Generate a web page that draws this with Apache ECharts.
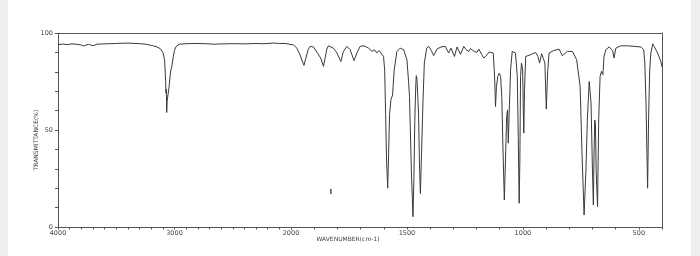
<!DOCTYPE html>
<html>
<head>
<meta charset="utf-8">
<script src="https://cdn.jsdelivr.net/npm/echarts@6/dist/echarts.min.js"></script>
<style>
html,body{margin:0;padding:0;background:#fff;}
#c{width:700px;height:256px;}
</style>
</head>
<body>
<div id="c"></div>
<script>
// Wavenumbers (cm-1) and transmittance (%)
const wavenumbers = [
4000,3960,3920,3880,3840,3800,3790,3780,3770,3740,3710,3700,3690,3670,3600,3500,3400,3300,3240,3200,
3182,3150,3124,3099,3085,3076,3073,3070,3067,3063,3058,3047,3033,3025,3021,3010,3000,2987,2960,2900,
2800,2700,2660,2652,2640,2500,2400,2300,2250,2240,2230,2150,2100,2050,2020,2000,
1990,1975,1961,1950,1944,1938,1926,1918,1903,1886,1872,1860,1853,1846,1839,1817,1802,1785,1774,1759,
1745,1728,1716,1702,1685,1666,1650,1640,1630,1620,1612,1601,1596,1592,1588,1583,1579,1575,1569,1562,
1555,1543,1529,1514,1500,1493,1489,1481,1474,1470,1466,1463,1460,1457,1450,1446,1442,1437,1431,1425,
1415,1406,1395,1385,1370,1353,1335,1320,1310,1295,1284,1269,1255,1245,1233,1226,1219,1210,1204,1198,
1190,1178,1169,1160,1154,1145,1137,1128,1123,1121,1118,1114,1108,1102,1096,1091,1086,1080,1075,1070,
1066,1063,1059,1053,1046,1039,1032,1024,1020,1016,1013,1010,1006,1001,998,996,993,988,967,945,
935,928,919,912,905,899,893,887,866,844,830,808,786,768,753,745,736,728,722,714,
710,706,700,696,693,690,687,684,678,673,667,661,655,650,642,628,613,607,599,578,
549,520,491,479,474,469,465,462,458,453,448,440,434,419,405,400
];
const transmittance = [
94.0,94.3,94.0,94.4,94.2,93.8,93.0,93.3,94.0,94.2,93.6,92.8,93.6,94.2,94.4,94.6,94.8,94.5,94.2,93.6,
93.4,92.8,92.0,90.0,86.0,75.0,69.0,71.0,59.0,65.0,66.0,72.0,80.5,82.0,83.6,88.0,91.0,93.0,94.2,94.5,
94.6,94.4,94.2,93.4,94.3,94.5,94.4,94.6,94.5,93.6,94.5,94.8,94.6,94.6,94.3,94.0,
94.0,92.2,88.8,85.0,83.3,86.2,91.4,93.1,92.8,89.7,87.1,82.8,87.1,91.4,93.4,92.2,89.7,85.3,90.5,93.1,
91.4,85.7,89.7,93.1,93.4,92.2,90.5,91.4,89.7,91.0,89.7,87.9,81.0,58.7,34.6,20.0,38.0,58.0,65.6,68.0,
81.0,90.5,92.2,91.4,86.2,75.0,67.3,29.4,5.3,25.0,55.0,69.0,78.0,76.8,58.7,32.9,17.2,38.0,63.9,84.5,
92.2,93.1,91.0,88.3,91.8,92.8,93.1,89.7,92.2,87.9,92.8,89.0,93.1,91.4,90.5,92.0,92.2,90.5,91.4,90.0,
91.7,89.0,87.1,88.0,88.3,90.2,90.2,89.7,80.0,74.2,62.1,72.4,77.6,79.3,77.6,67.3,41.5,13.9,34.6,57.0,
60.4,43.2,58.7,81.0,90.5,91.0,89.7,77.6,46.6,12.2,34.6,77.6,84.5,81.0,58.7,48.4,70.0,87.9,88.8,90.0,
87.9,84.5,89.3,88.8,84.5,60.8,80.0,89.7,91.0,91.7,88.3,90.5,90.5,86.2,72.4,38.0,6.2,29.4,55.2,75.0,
75.9,63.9,29.4,11.4,38.0,55.2,53.5,29.4,10.5,55.2,77.6,80.2,78.5,87.9,91.4,92.8,91.0,87.1,92.2,93.4,
93.4,93.1,92.8,91.4,84.5,63.9,38.0,20.0,55.2,81.0,89.7,94.4,93.1,89.7,85.3,82.5
];
// stray mark printed on the original chart
const strayMark = [[1828, 18.3]];

const xLabelsHigh = [4000, 3000, 2000];
const xLabelsLow = [1500, 1000, 500];
const yLabels = [0, 50, 100];

const highPart = [], lowPart = [];
for (let i = 0; i < wavenumbers.length; i++) {
  const p = [wavenumbers[i], transmittance[i]];
  if (wavenumbers[i] >= 2000) highPart.push(p);
  if (wavenumbers[i] <= 2000) lowPart.push(p);
}

const axisColor = '#555';
const txtColor = '#444';
const font = 'DejaVu Sans';

const chart = echarts.init(document.getElementById('c'), null, {renderer: 'canvas'});
chart.setOption({
  animation: false,
  backgroundColor: '#fff',
  grid: [
    {left: 58, top: 33, width: 233, height: 194},
    {left: 291, top: 33, right: 38, height: 194}
  ],
  xAxis: [
    {type: 'value', gridIndex: 0, min: 2000, max: 4000, interval: 100, inverse: true,
     axisLine: {lineStyle: {color: axisColor, width: 1}},
     axisTick: {length: 2.5, lineStyle: {color: axisColor}},
     axisLabel: {interval: 0, margin: 3, fontSize: 6.5, color: txtColor, fontFamily: font,
       formatter: v => xLabelsHigh.includes(v) ? String(v) : ''},
     splitLine: {show: false}},
    {type: 'value', gridIndex: 1, min: 400, max: 2000, interval: 100, inverse: true,
     axisLine: {lineStyle: {color: axisColor, width: 1}},
     axisTick: {length: 2.5, lineStyle: {color: axisColor}},
     axisLabel: {interval: 0, margin: 3, fontSize: 6.5, color: txtColor, fontFamily: font,
       formatter: v => xLabelsLow.includes(v) ? String(v) : ''},
     splitLine: {show: false}},
    {type: 'value', gridIndex: 0, min: 2000, max: 4000, inverse: true, position: 'top',
     axisLine: {lineStyle: {color: axisColor, width: 1}}, axisTick: {show: false},
     axisLabel: {show: false}, splitLine: {show: false}},
    {type: 'value', gridIndex: 1, min: 400, max: 2000, inverse: true, position: 'top',
     axisLine: {lineStyle: {color: axisColor, width: 1}}, axisTick: {show: false},
     axisLabel: {show: false}, splitLine: {show: false}}
  ],
  yAxis: [
    {type: 'value', gridIndex: 0, min: 0, max: 100, interval: 10,
     axisLine: {show: true, lineStyle: {color: axisColor, width: 1}},
     axisTick: {show: true, length: 3, lineStyle: {color: axisColor}},
     axisLabel: {margin: 5, fontSize: 6.5, color: txtColor, fontFamily: font,
       formatter: v => yLabels.includes(v) ? String(v) : ''},
     splitLine: {show: false}},
    {type: 'value', gridIndex: 1, min: 0, max: 100, position: 'right',
     axisLine: {show: true, lineStyle: {color: axisColor, width: 1}},
     axisTick: {show: false}, axisLabel: {show: false}, splitLine: {show: false}}
  ],
  graphic: [
    {type: 'rect', left: 0, top: 0, shape: {width: 8, height: 256}, style: {fill: '#eeeeee'}},
    {type: 'rect', left: 691, top: 0, shape: {width: 9, height: 256}, style: {fill: '#eeeeee'}},
    {type: 'text', x: 36, y: 140, rotation: Math.PI / 2,
     style: {text: 'TRANSMITTANCE(%)', fill: txtColor, font: '6px DejaVu Sans', align: 'center', verticalAlign: 'middle'}},
    {type: 'text', x: 348, y: 239,
     style: {text: 'WAVENUMBER(cm-1)', fill: txtColor, font: '6px DejaVu Sans', align: 'center', verticalAlign: 'middle'}}
  ],
  series: [
    {type: 'line', xAxisIndex: 0, yAxisIndex: 0, data: highPart, symbol: 'none',
     lineStyle: {color: '#3a3a3a', width: 1}},
    {type: 'line', xAxisIndex: 1, yAxisIndex: 1, data: lowPart, symbol: 'none',
     lineStyle: {color: '#3a3a3a', width: 1}},
    {type: 'scatter', xAxisIndex: 1, yAxisIndex: 1, data: strayMark, symbol: 'rect',
     symbolSize: [1.5, 5], itemStyle: {color: '#222'}}
  ]
});
</script>
</body>
</html>
